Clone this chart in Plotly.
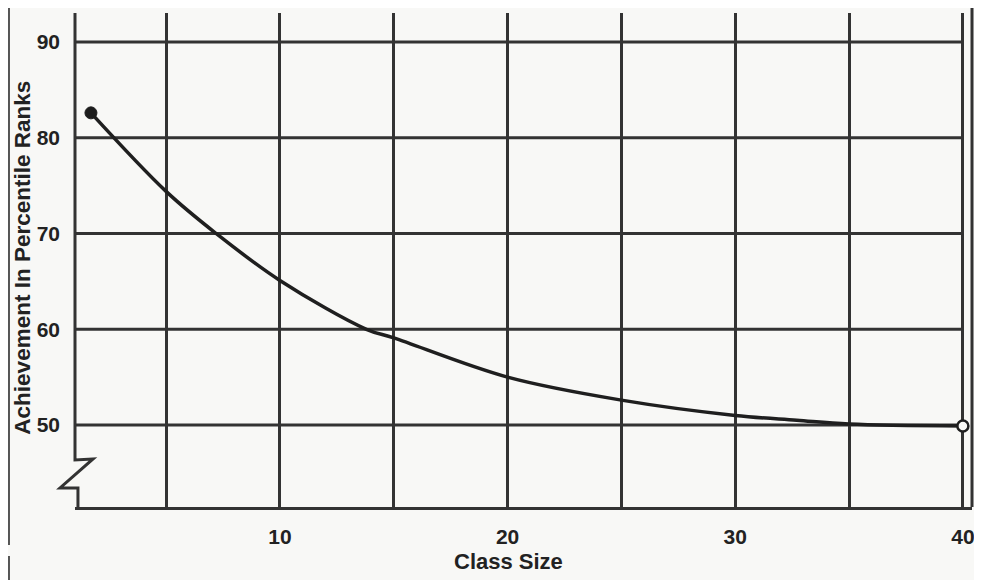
import plotly.graph_objects as go

# ---- data ----
class_size = [1.7, 5, 7.2, 10, 13.8, 15, 20, 25, 30, 32.7, 35, 40]
achievement = [82.6, 74.4, 70.0, 65.1, 60.0, 59.1, 55.0, 52.6, 51.0, 50.5, 50.1, 49.9]

x_grid = [5, 10, 15, 20, 25, 30, 35, 40]
x_labels = ["", "10", "", "20", "", "30", "", "40"]
y_grid = [50, 60, 70, 80, 90]
y_labels = ["50", "60", "70", "80", "90"]

x_title = "Class Size"
y_title = "Achievement In Percentile Ranks"

# ---- styles ----
BG = "#f8f8f6"
LINE = "#333333"
INK = "#222222"
FONT = "Liberation Sans, Arial, sans-serif"
X_RANGE = [1.0, 40.4]
Y_RANGE = [41.44, 93.03]

fig = go.Figure()

# achievement curve
fig.add_trace(go.Scatter(
    x=class_size, y=achievement, mode="lines",
    line=dict(color="#1f1f1f", width=3.5, shape="spline", smoothing=1.0),
    hoverinfo="skip", showlegend=False,
))
# end points
fig.add_trace(go.Scatter(
    x=[class_size[0]], y=[achievement[0]], mode="markers",
    marker=dict(size=12, color="#1c1c1c", line=dict(color="#1c1c1c", width=1)),
    showlegend=False,
))
fig.add_trace(go.Scatter(
    x=[class_size[-1]], y=[achievement[-1]], mode="markers",
    marker=dict(size=11, color=BG, line=dict(color="#1f1f1f", width=2.5)),
    showlegend=False,
))

shapes = []
# horizontal grid lines, stopping at the last vertical line
for yv in y_grid:
    shapes.append(dict(type="line", xref="x", yref="y", x0=X_RANGE[0], x1=x_grid[-1],
                       y0=yv, y1=yv, line=dict(color=LINE, width=3), layer="below"))
# left axis line with break symbol (paper coordinates)
shapes.append(dict(type="path", xref="paper", yref="paper",
                   path="M 0,1 L 0,0.0951 L 0.0201,0.0972 L -0.0167,0.0385 L 0.0033,0.0385 L 0.0033,0",
                   line=dict(color=LINE, width=3)))
# right frame rule
shapes.append(dict(type="line", xref="paper", yref="paper", x0=1.0, x1=1.0, y0=0, y1=1.011,
                   line=dict(color=LINE, width=3)))
# page rule at far left (scan)
shapes.append(dict(type="line", xref="paper", yref="paper", x0=-0.0736, x1=-0.0736,
                   y0=-0.0769, y1=1.011, line=dict(color="#555555", width=2)))
shapes.append(dict(type="line", xref="paper", yref="paper", x0=-0.0736, x1=-0.0736,
                   y0=-0.1478, y1=-0.0992, line=dict(color="#555555", width=2)))

# page body has an 8px margin, so the figure is sized/offset to compensate
fig.update_layout(
    width=974, height=572,
    margin=dict(l=67, r=10, t=5, b=73),
    paper_bgcolor=BG, plot_bgcolor=BG,
    font=dict(family=FONT, color=INK),
    shapes=shapes,
    showlegend=False,
    annotations=[
        dict(text="<b>" + y_title + "</b>", xref="paper", yref="paper",
             x=-0.0595, y=0.504, textangle=-90, showarrow=False,
             font=dict(family=FONT, size=22.5, color=INK), xanchor="center", yanchor="middle"),
        dict(text="<b>" + x_title + "</b>", xref="paper", yref="paper",
             x=0.4838, y=-0.111, showarrow=False,
             font=dict(family=FONT, size=22, color=INK), xanchor="center", yanchor="middle"),
    ],
)

fig.update_xaxes(
    range=X_RANGE, showgrid=True, gridcolor=LINE, gridwidth=3,
    tickmode="array", tickvals=x_grid, ticktext=["<b>" + t + "</b>" if t else "" for t in x_labels],
    tickfont=dict(family=FONT, size=21, color=INK), ticks="", ticklabelstandoff=9,
    showline=True, linecolor=LINE, linewidth=3, zeroline=False, mirror=False,
)
fig.update_yaxes(
    range=Y_RANGE, showgrid=False,
    tickmode="array", tickvals=y_grid, ticktext=["<b>" + t + "</b>" for t in y_labels],
    tickfont=dict(family=FONT, size=21, color=INK), ticks="", ticklabelstandoff=14,
    showline=False, zeroline=False,
)

fig.write_html("out.html")
